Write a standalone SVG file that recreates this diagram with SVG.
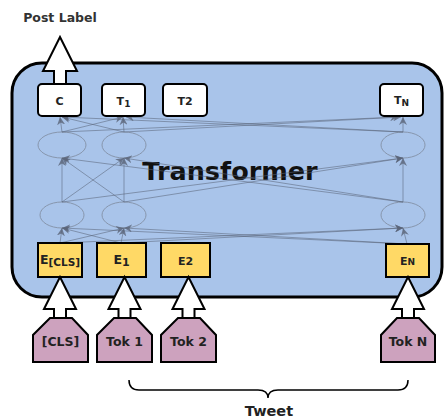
<svg xmlns="http://www.w3.org/2000/svg" width="445" height="420" viewBox="0 0 445 420">
<defs>
<marker id="ah" markerUnits="userSpaceOnUse" markerWidth="9" markerHeight="8" refX="8" refY="4" orient="auto">
<path d="M0,0 L8,4 L0,8 L2.5,4 Z" fill="#5a6478" fill-opacity="0.8"/>
</marker>
<style>
text{font-family:"DejaVu Sans","Verdana",sans-serif;font-weight:bold;text-anchor:middle;fill:#222}
.out{fill:#fff;stroke:#000;stroke-width:2}
.emb{fill:#ffd966;stroke:#000;stroke-width:2}
.tok{fill:#cda2be;stroke:#000;stroke-width:2}
.blk{fill:#fff;stroke:#000;stroke-width:2;stroke-linejoin:miter}
.ell{fill:none;stroke:#8796ad;stroke-width:1}
.lbl{font-size:11px}
.elbl{font-size:12.5px}
.tk{font-size:12.5px}
#conn line{stroke:#5a6478;stroke-opacity:0.55;stroke-width:1;marker-end:url(#ah)}
</style>
</defs>
<rect width="445" height="420" fill="#fff"/>
<text x="60" y="22" style="font-size:12.5px;fill:#333">Post Label</text>
<g id="transformer">
<rect x="12" y="63" width="430" height="234" rx="30" fill="#a9c4ea" stroke="#000" stroke-width="3"/>
<text x="230" y="180" style="font-size:25.5px;fill:#111">Transformer</text>
</g>
<g id="ellipses">
<ellipse class="ell" cx="62" cy="145" rx="24" ry="13"/>
<ellipse class="ell" cx="124" cy="145" rx="22" ry="13"/>
<ellipse class="ell" cx="403" cy="145" rx="22" ry="13"/>
<ellipse class="ell" cx="62" cy="215" rx="22" ry="13"/>
<ellipse class="ell" cx="124" cy="215" rx="22" ry="13"/>
<ellipse class="ell" cx="403" cy="215" rx="22" ry="13"/>
</g>
<g id="conn">
<line x1="60" y1="243" x2="62" y2="228"/>
<line x1="60" y1="243" x2="124" y2="228"/>
<line x1="60" y1="243" x2="403" y2="228"/>
<line x1="121" y1="243" x2="62" y2="228"/>
<line x1="121" y1="243" x2="124" y2="228"/>
<line x1="121" y1="243" x2="403" y2="228"/>
<line x1="407" y1="244" x2="62" y2="228"/>
<line x1="407" y1="244" x2="124" y2="228"/>
<line x1="407" y1="244" x2="403" y2="228"/>
<line x1="62" y1="202" x2="62" y2="158"/>
<line x1="62" y1="202" x2="124" y2="158"/>
<line x1="62" y1="202" x2="403" y2="158"/>
<line x1="124" y1="202" x2="62" y2="158"/>
<line x1="124" y1="202" x2="124" y2="158"/>
<line x1="124" y1="202" x2="403" y2="158"/>
<line x1="403" y1="202" x2="62" y2="158"/>
<line x1="403" y1="202" x2="124" y2="158"/>
<line x1="403" y1="202" x2="403" y2="158"/>
<line x1="62" y1="132" x2="60" y2="117"/>
<line x1="62" y1="132" x2="123" y2="117"/>
<line x1="62" y1="132" x2="398" y2="117"/>
<line x1="124" y1="132" x2="62" y2="117"/>
<line x1="124" y1="132" x2="123" y2="117"/>
<line x1="124" y1="132" x2="401" y2="117"/>
<line x1="403" y1="132" x2="62" y2="117"/>
<line x1="403" y1="132" x2="126" y2="117"/>
<line x1="403" y1="132" x2="403" y2="117"/>
</g>
<g id="post-arrow">
<polygon class="blk" points="60,37 77,71 66,71 66,84 54,84 54,71 43,71"/>
</g>
<g id="out-c"><rect class="out" x="38" y="84" width="43" height="32" rx="4"/><text class="lbl" x="59.5" y="105">C</text></g>
<g id="out-t1"><rect class="out" x="102" y="84" width="43" height="32" rx="4"/><text class="lbl" x="123.5" y="105">T<tspan font-size="9px" dy="2">1</tspan></text></g>
<g id="out-t2"><rect class="out" x="163" y="84" width="44" height="32" rx="4"/><text class="lbl" x="185" y="105">T2</text></g>
<g id="out-tn"><rect class="out" x="380" y="84" width="43" height="32" rx="4"/><text class="lbl" x="401.5" y="104">T<tspan font-size="9px" dy="2">N</tspan></text></g>
<g id="emb-cls"><rect class="emb" x="38" y="243" width="44" height="34"/><text class="elbl" x="60" y="264">E<tspan font-size="10.5px" dy="2">[CLS]</tspan></text></g>
<g id="emb-1"><rect class="emb" x="97" y="243" width="49" height="34"/><text class="elbl" x="121.5" y="264">E<tspan font-size="11px" dy="1.5">1</tspan></text></g>
<g id="emb-2"><rect class="emb" x="161" y="243" width="49" height="34"/><text class="lbl" x="185.5" y="265">E2</text></g>
<g id="emb-n"><rect class="emb" x="386" y="244" width="43" height="33"/><text class="lbl" x="407.5" y="265">E<tspan font-size="9px">N</tspan></text></g>
<g id="tok-cls">
<polygon class="blk" points="60,277 76,309 66,309 66,320 54,320 54,309 44,309"/>
<polygon class="tok" points="50,318 72,318 88,335 88,362 33,362 33,335"/>
<text class="tk" x="60.5" y="346">[CLS]</text>
</g>
<g id="tok-1">
<polygon class="blk" points="124.5,277 140.5,309 130.5,309 130.5,320 118.5,320 118.5,309 108.5,309"/>
<polygon class="tok" points="114,318 136,318 152,335 152,362 97,362 97,335"/>
<text class="tk" x="124.5" y="346">Tok 1</text>
</g>
<g id="tok-2">
<polygon class="blk" points="188.5,277 204.5,309 194.5,309 194.5,320 182.5,320 182.5,309 172.5,309"/>
<polygon class="tok" points="178,318 200,318 216,335 216,362 161,362 161,335"/>
<text class="tk" x="188.5" y="346">Tok 2</text>
</g>
<g id="tok-n">
<polygon class="blk" points="408,277 424,309 414,309 414,320 402,320 402,309 392,309"/>
<polygon class="tok" points="397,318 419,318 435,335 435,362 381,362 381,335"/>
<text class="tk" x="408" y="346">Tok N</text>
</g>
<g id="tweet">
<path d="M129,380 Q129,390 139,390 L258,390 Q268,390 268,398 Q268,390 278,390 L398,390 Q408,390 408,380" fill="none" stroke="#000" stroke-width="1.5"/>
<text x="269" y="416" style="font-size:14.5px">Tweet</text>
</g>
</svg>
